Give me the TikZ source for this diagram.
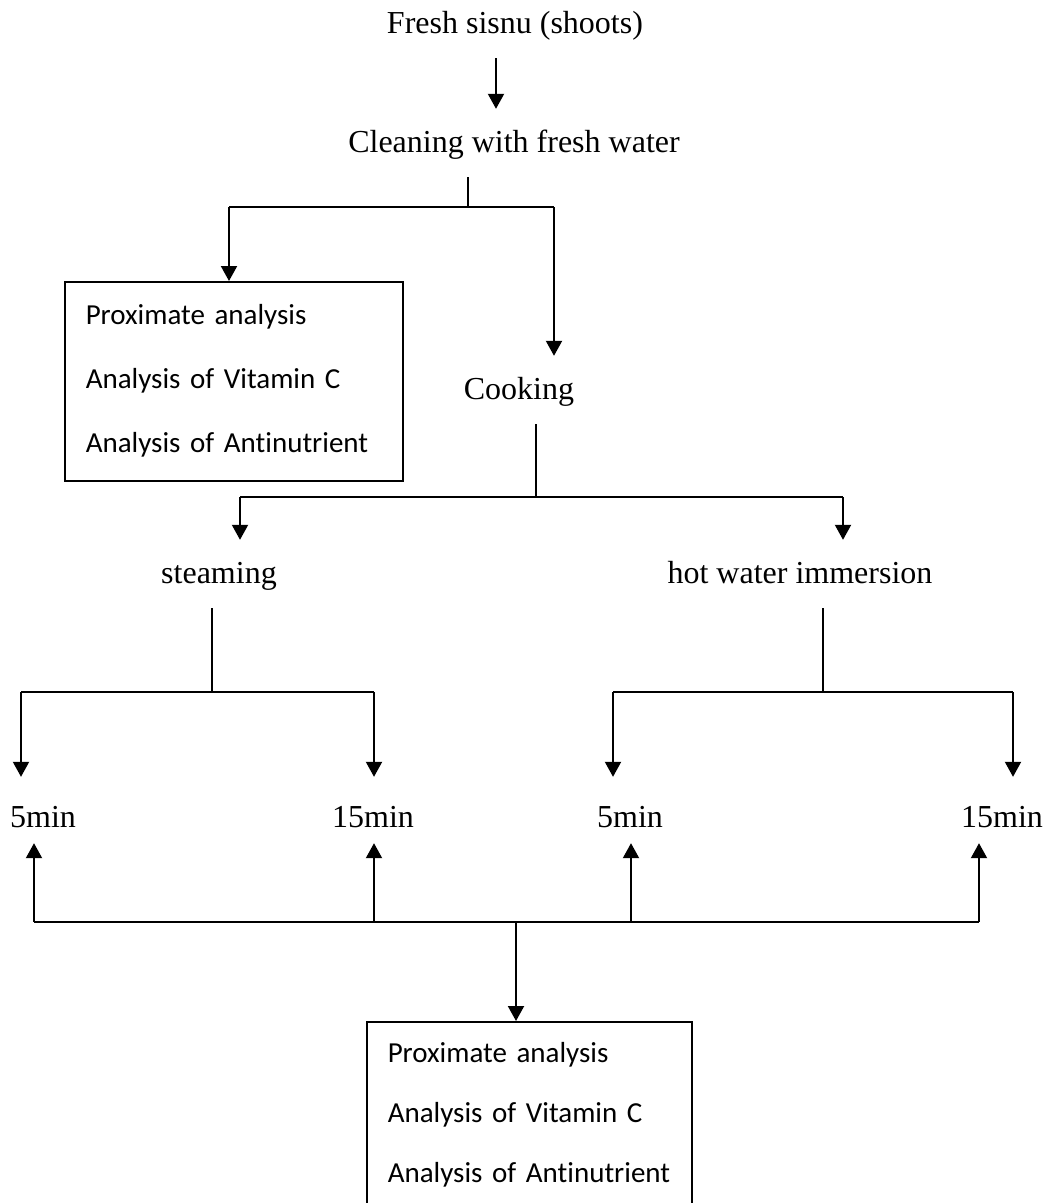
\documentclass[tikz,border=0pt]{standalone}
\usepackage{fontspec}
\setmainfont{Liberation Serif}
\newfontfamily\boxfont[Ligatures=NoCommon]{Carlito}
\usetikzlibrary{arrows.meta}

\begin{document}
\begin{tikzpicture}[x=1pt, y=-1pt,
    lbl/.style={font=\fontsize{32}{38}\selectfont, anchor=base, inner xsep=0pt, inner ysep=21pt, text height=22pt, text depth=4pt},
    tim/.style={lbl, text height=29pt},
    res/.style={draw, line width=1.5pt, anchor=north west, align=left, inner xsep=21pt, font=\boxfont\fontsize{29}{64}\selectfont},
    arr/.style={line width=2pt, -{Triangle[width=16pt,length=15pt]}},
    bar/.style={line width=2pt},
    stem/.style={line width=1.2pt}]
    \useasboundingbox (0,0) rectangle (1047,1203);

    % steps
    \node[lbl] (fresh) at (515,33) {Fresh sisnu (shoots)};
    \node[lbl] (clean) at (514,152) {Cleaning with fresh water};
    \node[res, text width=296pt, minimum height=199pt] (box1) at (64,281)
        {Proximate analysis\\Analysis of Vitamin C\\Analysis of Antinutrient};
    \node[lbl] (cook) at (519,399) {Cooking};
    \node[lbl] (steam) at (219,583) {steaming};
    \node[lbl] (hot) at (800,583) {hot water immersion};
    \node[tim] (s5) at (43,827) {5min};
    \node[tim] (s15) at (373,827) {15min};
    \node[tim] (h5) at (630,827) {5min};
    \node[tim] (h15) at (1002,827) {15min};
    \node[res, text width=283pt, minimum height=186pt,
          font=\boxfont\fontsize{29}{60}\selectfont] (box2) at (366,1021)
        {Proximate analysis\\Analysis of Vitamin C\\Analysis of Antinutrient};

    % junctions
    \coordinate (c1) at (468,207);
    \coordinate (c1l) at (229,207);
    \coordinate (c1r) at (554,207);
    \coordinate (c2) at (536,497);
    \coordinate (c2l) at (240,497);
    \coordinate (c2r) at (843,497);
    \coordinate (c3) at (212,692);
    \coordinate (c3l) at (21,692);
    \coordinate (c3r) at (374,692);
    \coordinate (c4) at (823,692);
    \coordinate (c4l) at (613,692);
    \coordinate (c4r) at (1013,692);
    \coordinate (b1) at (34,922);
    \coordinate (b2) at (374,922);
    \coordinate (b3) at (631,922);
    \coordinate (b4) at (979,922);
    \coordinate (bm) at (516,922);

    \draw[arr] ([xshift=-19pt]fresh.south) -- ([xshift=-19pt]fresh.south |- clean.north);

    \draw[stem] (clean.south -| c1) -- (c1);
    \draw[bar] (c1l) -- (c1r);
    \draw[arr] (c1l) -- (c1l |- box1.north);
    \draw[arr] (c1r) -- (c1r |- cook.north);

    \draw[stem] (cook.south -| c2) -- (c2);
    \draw[bar] (c2l) -- (c2r);
    \draw[arr] (c2l) -- (c2l |- steam.north);
    \draw[arr] (c2r) -- (c2r |- hot.north);

    \draw[stem] (steam.south -| c3) -- (c3);
    \draw[bar] (c3l) -- (c3r);
    \draw[arr] (c3l) -- (c3l |- s5.north);
    \draw[arr] (c3r) -- (c3r |- s15.north);

    \draw[stem] (hot.south -| c4) -- (c4);
    \draw[bar] (c4l) -- (c4r);
    \draw[arr] (c4l) -- (c4l |- h5.north);
    \draw[arr] (c4r) -- (c4r |- h15.north);

    % back to analysis
    \draw[bar] (b1) -- (b4);
    \draw[arr, shorten >=-9pt] (b1) -- (b1 |- s5.south);
    \draw[arr, shorten >=-9pt] (b2) -- (b2 |- s15.south);
    \draw[arr, shorten >=-9pt] (b3) -- (b3 |- h5.south);
    \draw[arr, shorten >=-9pt] (b4) -- (b4 |- h15.south);
    \draw[arr] (bm) -- (bm |- box2.north);
\end{tikzpicture}
\end{document}
